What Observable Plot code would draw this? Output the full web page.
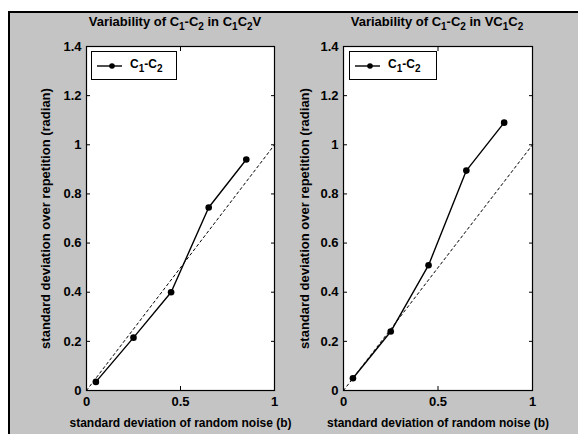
<!DOCTYPE html>
<html>
<head>
<meta charset="utf-8">
<script src="https://cdn.jsdelivr.net/npm/d3@7"></script>
<script src="https://cdn.jsdelivr.net/npm/@observablehq/plot@0.6"></script>
<style>
  html, body { margin: 0; padding: 0; background: #fff; }
  #fig { position: relative; width: 578px; height: 434px; overflow: hidden; background: #fff; font-family: "Liberation Sans", Arial, sans-serif; font-weight: bold; }
  #bg { position: absolute; left: 8px; top: 11px; right: 0; bottom: 0; background: #c4c4c4; border-left: 2px solid #000; border-top: 2px solid #000; }
  .panel { position: absolute; top: 0; overflow: visible; }
  .panel svg { overflow: visible !important; }
  .panel svg text { font-weight: bold; }
  .title { position: absolute; top: 14px; font-size: 13px; color: #000; white-space: nowrap; transform: translateX(-50%); }
  .title sub, .legend sub { font-size: 10px; vertical-align: -4px; line-height: 0; }
  .legend { position: absolute; top: 51px; height: 29px; background: #fff; border: 1px solid #000; box-sizing: border-box; font-size: 12px; }
  .legend svg { position: absolute; left: 5px; top: 0; }
  .legend span { position: absolute; top: 5px; white-space: nowrap; }
</style>
</head>
<body>
<div id="fig">
  <div id="bg"></div>
</div>
<script>
// ---- data ----
const noise = [0.05, 0.25, 0.45, 0.65, 0.85];
const stdC1C2V = [0.035, 0.215, 0.40, 0.745, 0.94];
const stdVC1C2 = [0.05, 0.24, 0.51, 0.895, 1.09];
const refLine = [0, 1];
const xTicks = [0, 0.5, 1];
const yTicks = [0, 0.2, 0.4, 0.6, 0.8, 1, 1.2, 1.4];
const titles = ["Variability of C<sub>1</sub>-C<sub>2</sub> in C<sub>1</sub>C<sub>2</sub>V",
                "Variability of C<sub>1</sub>-C<sub>2</sub> in VC<sub>1</sub>C<sub>2</sub>"];
const seriesName = "C<sub>1</sub>-C<sub>2</sub>";
const xLabel = "standard deviation of random noise (b)";
const yLabel = "standard deviation over repetition (radian)";

const fig = document.getElementById("fig");

function panel(values, opts) {
  const data = noise.map((x, i) => ({x, y: values[i]}));
  const ref = refLine.map(v => ({x: v, y: v}));
  const fmt = d => String(d);
  const chart = Plot.plot({
    width: 289,
    height: 434,
    marginLeft: opts.ml,
    marginRight: opts.mr,
    marginTop: 46,
    marginBottom: 44,
    style: {background: "transparent", overflow: "visible", fontFamily: "Liberation Sans, Arial, sans-serif", fontSize: "12px", color: "#000"},
    x: {domain: [0, 1]},
    y: {domain: [0, 1.4]},
    marks: [
      Plot.frame({fill: "white", stroke: "none"}),
      Plot.line(ref, {x: "x", y: "y", stroke: "#000", strokeWidth: 1, strokeDasharray: "2.5,3"}),
      Plot.line(data, {x: "x", y: "y", stroke: "#000", strokeWidth: 1.4}),
      Plot.dot(data, {x: "x", y: "y", r: 3.3, fill: "#000", stroke: "none"}),
      Plot.axisX({anchor: "bottom", ticks: xTicks, tickFormat: fmt, tickSize: -4, tickPadding: 10, fontSize: 13,
                  label: xLabel, labelAnchor: "center", labelArrow: "none", labelOffset: 36}),
      Plot.axisX({anchor: "top", ticks: xTicks, tickFormat: () => "", tickSize: -4, label: null}),
      Plot.axisY({anchor: "left", ticks: yTicks, tickFormat: fmt, tickSize: -4, tickPadding: 9, fontSize: 13,
                  label: yLabel, labelAnchor: "center", labelArrow: "none", labelOffset: opts.lo}),
      Plot.axisY({anchor: "right", ticks: yTicks, tickFormat: () => "", tickSize: -4, label: null}),
      Plot.frame({stroke: "#000", strokeWidth: 1.2})
    ]
  });
  chart.querySelectorAll("[aria-label='x-axis label'] text").forEach(t => t.style.fontSize = "12px");
  chart.querySelectorAll("[aria-label='y-axis label'] text").forEach(t => t.style.fontSize = "13px");
  const wrap = document.createElement("div");
  wrap.className = "panel";
  wrap.style.left = opts.left + "px";
  wrap.appendChild(chart);
  fig.appendChild(wrap);

  const t = document.createElement("div");
  t.className = "title";
  t.style.left = opts.titleX + "px";
  t.innerHTML = opts.title;
  fig.appendChild(t);

  const lg = document.createElement("div");
  lg.className = "legend";
  lg.style.left = opts.lgX + "px";
  lg.style.width = opts.lgW + "px";
  lg.innerHTML = `<svg width="30" height="28"><line x1="0" y1="14" x2="25" y2="14" stroke="#000" stroke-width="1.4"/><circle cx="15" cy="14" r="2.8" fill="#000"/></svg><span style="left:38px">${seriesName}</span>`;
  fig.appendChild(lg);
}

panel(stdC1C2V, {left: 0, ml: 86, mr: 15, lo: 46, title: titles[0], titleX: 175, lgX: 91, lgW: 86});
panel(stdVC1C2, {left: 289, ml: 54, mr: 46, lo: 44, title: titles[1], titleX: 437, lgX: 349, lgW: 88});
</script>
</body>
</html>
